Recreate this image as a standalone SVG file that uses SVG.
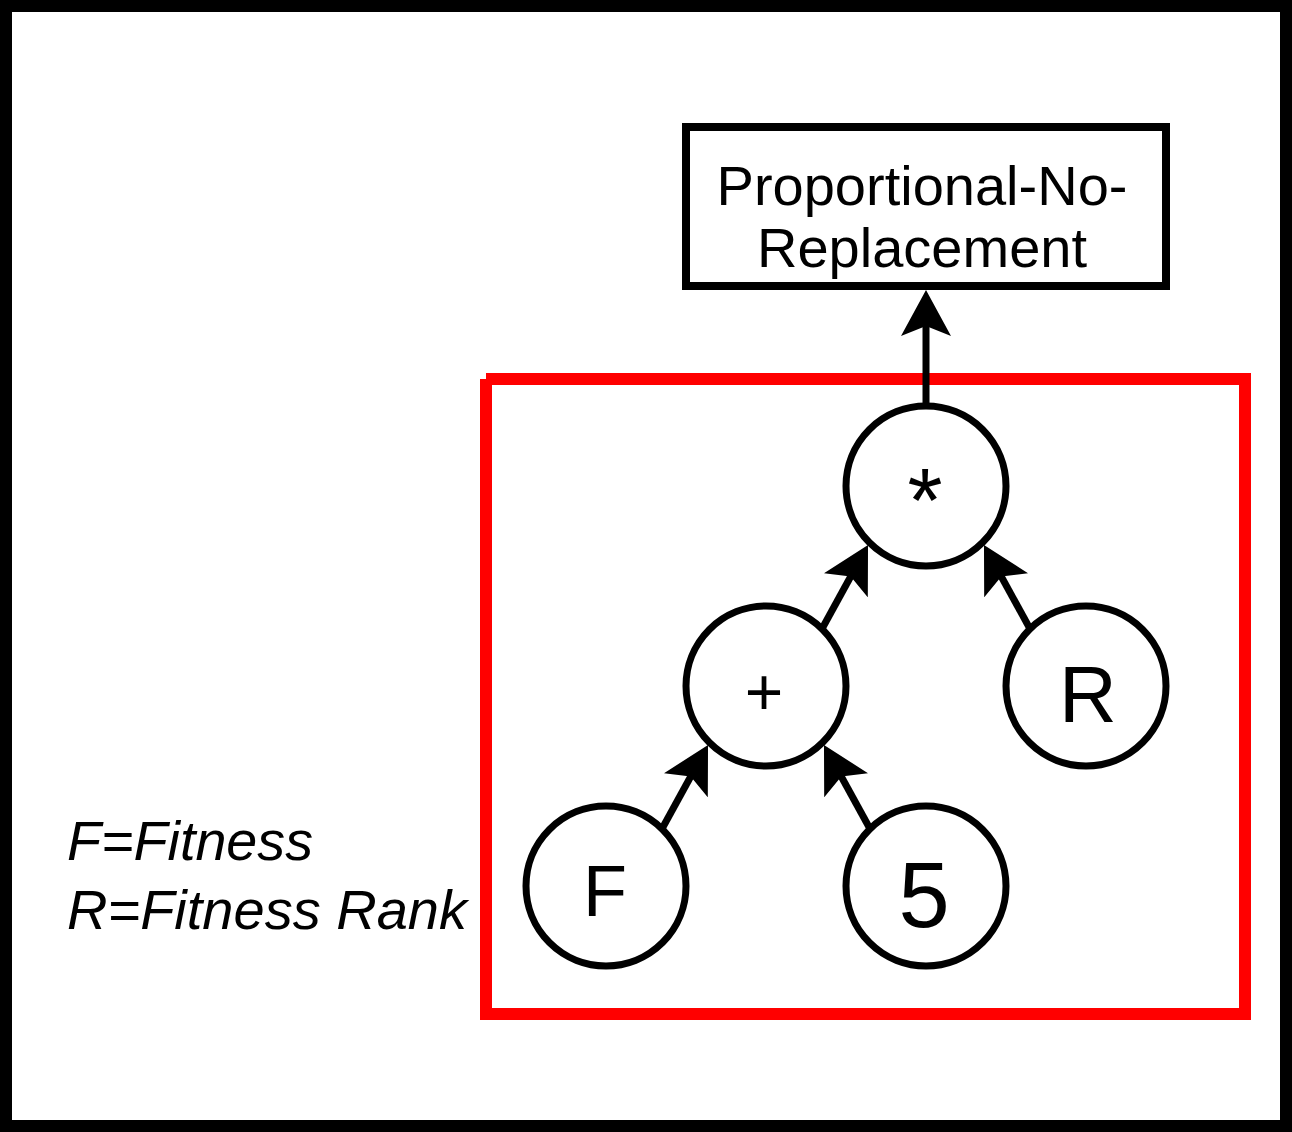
<svg xmlns="http://www.w3.org/2000/svg" width="1292" height="1132" viewBox="0 0 1292 1132">
<style>
.node{fill:#fff;stroke:#000;stroke-width:7}
.lbl{font-family:"Liberation Sans",Arial,sans-serif;fill:#000;text-anchor:middle}
.conn{fill:none;stroke:#000;stroke-width:7;marker-end:url(#arr)}
.legend{font-family:"Liberation Sans",Arial,sans-serif;font-style:italic;font-size:55px;fill:#000}
</style>
<defs>
<marker id="arr" viewBox="0 0 46 50" refX="26" refY="25" markerWidth="46" markerHeight="50" markerUnits="userSpaceOnUse" orient="auto">
<path d="M0,0 L46,25 L0,50 L10,25 Z" fill="#000"/>
</marker>
</defs>
<rect x="6" y="6" width="1280" height="1120" fill="#fff" stroke="#000" stroke-width="12"/>
<g id="group-box">
<path d="M486,379 L1245,379 L1245,1014 L486,1014 L486,379" fill="none" stroke="#ff0000" stroke-width="12"/>
</g>
<g id="connectors">
<path class="conn" d="M926,406 L926,310"/>
<path class="conn" d="M823,627 L858.4,562.5"/>
<path class="conn" d="M1029,627 L993.6,562.5"/>
<path class="conn" d="M663,827 L698.4,762.5"/>
<path class="conn" d="M869,827 L833.6,762.5"/>
</g>
<g id="node-selection">
<rect x="686" y="127" width="480" height="159" fill="#fff" stroke="#000" stroke-width="8"/>
<text class="lbl" x="922" y="205" font-size="56">Proportional-No-</text>
<text class="lbl" x="922" y="267" font-size="56">Replacement</text>
</g>
<g id="node-mul">
<circle class="node" cx="926" cy="486" r="80"/>
<text class="lbl" x="925" y="532" font-size="90">*</text>
</g>
<g id="node-plus">
<circle class="node" cx="766" cy="686" r="80"/>
<text class="lbl" x="764" y="715" font-size="66">+</text>
</g>
<g id="node-R">
<circle class="node" cx="1086" cy="686" r="80"/>
<text class="lbl" x="1088" y="722" font-size="80">R</text>
</g>
<g id="node-F">
<circle class="node" cx="606" cy="886" r="80"/>
<text class="lbl" x="605" y="916" font-size="72">F</text>
</g>
<g id="node-5">
<circle class="node" cx="926" cy="886" r="80"/>
<text class="lbl" x="924" y="927" font-size="92">5</text>
</g>
<g id="legend">
<text class="legend" x="67" y="860" textLength="246" lengthAdjust="spacingAndGlyphs">F=Fitness</text>
<text class="legend" x="67" y="929" textLength="400" lengthAdjust="spacingAndGlyphs">R=Fitness Rank</text>
</g>
</svg>
